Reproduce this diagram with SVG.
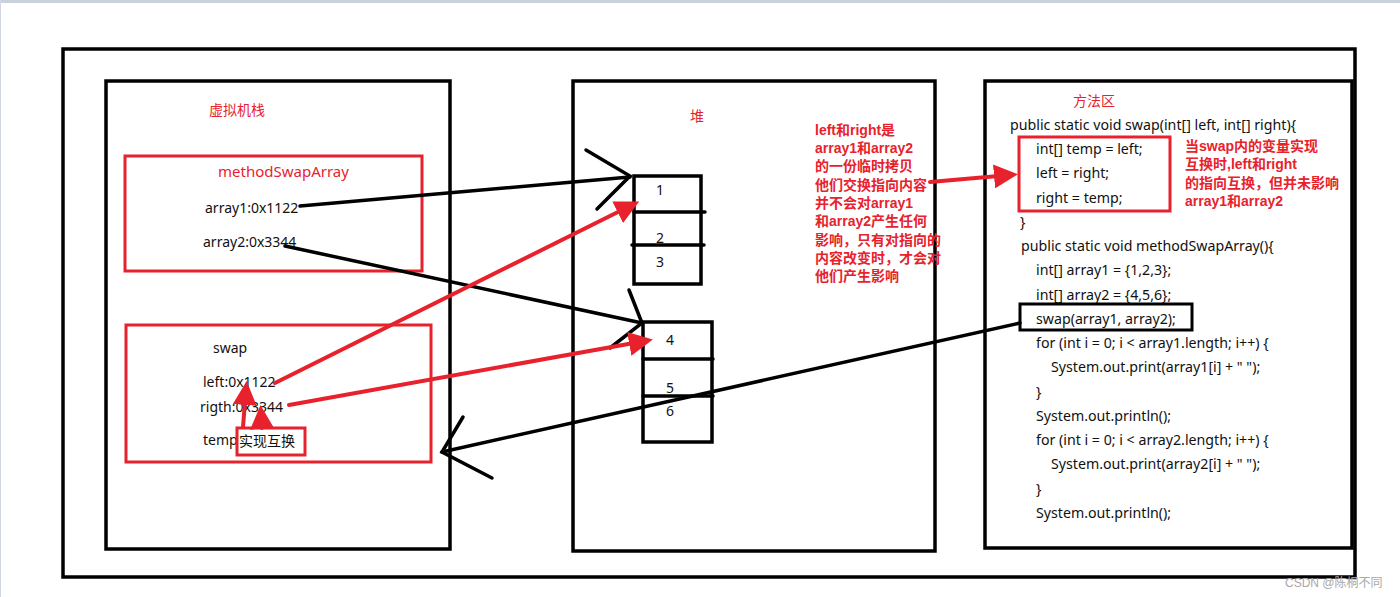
<svg xmlns="http://www.w3.org/2000/svg" width="1400" height="597" viewBox="0 0 1400 597">
<defs>
<style>
.frame{fill:none;stroke:#000;stroke-width:3.5}
.rbox{fill:none;stroke:#e8222c;stroke-width:3}
.bline{fill:none;stroke:#000;stroke-width:3.5;stroke-linecap:round}
.rline{fill:none;stroke:#e8222c;stroke-width:4;stroke-linecap:round}
.t{font-family:"Noto Sans","Noto Sans CJK SC",sans-serif;font-size:14px;fill:#111}
.rt{font-family:"Noto Sans","Noto Sans CJK SC",sans-serif;font-size:14px;fill:#e8222c}
.note{font-family:"Liberation Sans","Noto Sans CJK SC",sans-serif;font-size:14px;font-weight:bold;fill:#e8222c}
.code{font-family:"Noto Sans","Noto Sans CJK SC",sans-serif;font-size:14.2px;fill:#111}
</style>
<marker id="rarrow" markerWidth="6" markerHeight="6" refX="4" refY="3" orient="auto" markerUnits="strokeWidth">
<path d="M0,0 L6,3 L0,6 z" fill="#e8222c"/>
</marker>
</defs>
<rect x="0" y="0" width="1400" height="597" fill="#fff"/>
<rect x="0" y="0" width="1400" height="3" fill="#c9d1dd"/>
<rect x="0" y="0" width="1" height="597" fill="#d0d6e4"/>

<g id="outer"><rect class="frame" x="63" y="49" width="1292" height="528"/></g>

<g id="stack">
<rect class="frame" x="106" y="81" width="344" height="468"/>
<text class="rt" x="209" y="115">虚拟机栈</text>
</g>
<g id="methodSwapArray">
<rect class="rbox" x="125" y="156" width="297" height="115"/>
<text class="rt" x="218" y="177" style="font-size:15px">methodSwapArray</text>
<text class="t" x="205" y="213">array1:0x1122</text>
<text class="t" x="203" y="247">array2:0x3344</text>
</g>
<g id="swapFrame">
<rect class="rbox" x="126" y="325" width="305" height="137"/>
<text class="t" x="213" y="353">swap</text>
<text class="t" x="203" y="387">left:0x1122</text>
<text class="t" x="200" y="412">rigth:0x3344</text>
<text class="t" x="203" y="445">temp</text>
<rect class="rbox" x="237" y="428" width="68" height="27"/>
<text class="t" x="239" y="446">实现互换</text>
</g>

<g id="heap">
<rect class="frame" x="573" y="81" width="362" height="470"/>
<text class="rt" x="690" y="121">堆</text>
</g>
<g id="heapArray1">
<rect class="frame" x="634" y="176" width="67" height="108"/>
<line class="bline" x1="634" y1="212" x2="705" y2="212"/>
<line class="bline" x1="632" y1="245" x2="704" y2="245"/>
<text class="t" x="656" y="195">1</text>
<text class="t" x="656" y="243">2</text>
<text class="t" x="656" y="267">3</text>
</g>
<g id="heapArray2">
<rect class="frame" x="643" y="322" width="69" height="120"/>
<line class="bline" x1="643" y1="359" x2="713" y2="359"/>
<line class="bline" x1="643" y1="396" x2="713" y2="396"/>
<text class="t" x="666" y="345">4</text>
<text class="t" x="666" y="393">5</text>
<text class="t" x="666" y="416">6</text>
</g>

<g id="methodArea">
<rect class="frame" x="985" y="81" width="367" height="467"/>
<text class="rt" x="1073" y="106">方法区</text>
<text class="code" x="1010" y="130">public static void swap(int[] left, int[] right){</text>
<rect class="rbox" x="1019" y="137" width="151" height="74"/>
<text class="code" x="1036" y="154">int[] temp = left;</text>
<text class="code" x="1036" y="178">left = right;</text>
<text class="code" x="1036" y="203">right = temp;</text>
<text class="code" x="1020" y="227">}</text>
<text class="code" x="1021" y="251">public static void methodSwapArray(){</text>
<text class="code" x="1036" y="275">int[] array1 = {1,2,3};</text>
<text class="code" x="1036" y="300">int[] array2 = {4,5,6};</text>
<rect class="frame" x="1020" y="304" width="172" height="26" style="stroke-width:3"/>
<text class="code" x="1036" y="324">swap(array1, array2);</text>
<text class="code" x="1036" y="348">for (int i = 0; i &lt; array1.length; i++) {</text>
<text class="code" x="1051" y="372">System.out.print(array1[i] + " ");</text>
<text class="code" x="1036" y="397">}</text>
<text class="code" x="1036" y="421">System.out.println();</text>
<text class="code" x="1036" y="445">for (int i = 0; i &lt; array2.length; i++) {</text>
<text class="code" x="1051" y="469">System.out.print(array2[i] + " ");</text>
<text class="code" x="1036" y="494">}</text>
<text class="code" x="1036" y="518">System.out.println();</text>
</g>

<g id="note1">
<text class="note" x="815" y="135">left和right是</text>
<text class="note" x="815" y="153">array1和array2</text>
<text class="note" x="815" y="171">的一份临时拷贝</text>
<text class="note" x="815" y="190">他们交换指向内容</text>
<text class="note" x="815" y="208">并不会对array1</text>
<text class="note" x="815" y="226">和array2产生任何</text>
<text class="note" x="815" y="245">影响，只有对指向的</text>
<text class="note" x="815" y="263">内容改变时，才会对</text>
<text class="note" x="815" y="281">他们产生影响</text>
</g>
<g id="note2">
<text class="note" x="1185" y="151">当swap内的变量实现</text>
<text class="note" x="1185" y="169">互换时,left和right</text>
<text class="note" x="1185" y="188">的指向互换，但并未影响</text>
<text class="note" x="1185" y="206">array1和array2</text>
</g>

<g id="connectors">
<line class="bline" x1="300" y1="206" x2="630" y2="177"/>
<polyline class="bline" points="586,150 630,176 597,209"/>
<line class="bline" x1="285" y1="246" x2="642" y2="323"/>
<polyline class="bline" points="629,290 642,323 610,348"/>
<line class="bline" x1="1020" y1="323" x2="442" y2="452"/>
<polyline class="bline" points="463,417 442,452 492,478"/>
<line class="rline" x1="275" y1="383" x2="632" y2="205" marker-end="url(#rarrow)"/>
<line class="rline" x1="289" y1="405" x2="645" y2="341" marker-end="url(#rarrow)"/>
<line class="rline" x1="243" y1="427" x2="246" y2="389" marker-end="url(#rarrow)"/>
<line class="rline" x1="262" y1="428" x2="261" y2="413" marker-end="url(#rarrow)"/>
<line class="rline" x1="930" y1="182" x2="1010" y2="175" marker-end="url(#rarrow)"/>
</g>

<text x="1285" y="587" style="font-family:'Liberation Sans','Noto Sans CJK SC',sans-serif;font-size:12px;fill:#a8a8a8">CSDN @陈桐不同</text>
</svg>
